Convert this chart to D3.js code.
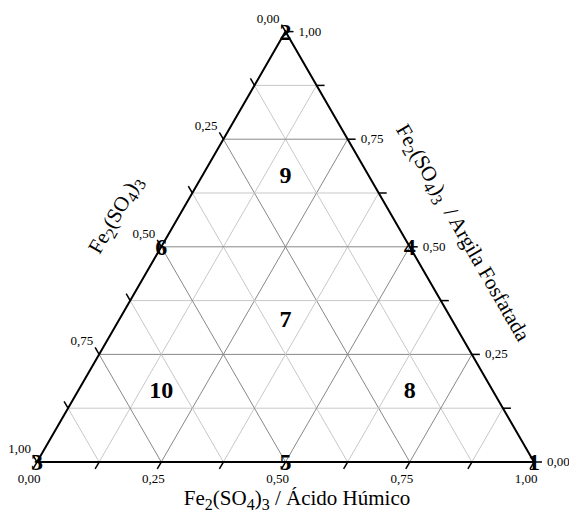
<!DOCTYPE html>
<html>
<head>
<meta charset="utf-8">
<script src="https://cdn.jsdelivr.net/npm/d3@7"></script>
<style>
  html, body { margin: 0; padding: 0; background: #fff; }
  svg { display: block; }
  text { font-family: "Liberation Serif", "Times New Roman", serif; fill: #000; }
</style>
</head>
<body>
<svg id="chart" width="569" height="519"></svg>
<script>
// Mixture points: weight of the bottom-right, top and bottom-left components
const pointLabels = ["1", "2", "3", "4", "5", "6", "7", "8", "9", "10"];
const wRight  = [1, 0, 0, 0.5, 0.5, 0,   0.3333, 0.6667, 0.1667, 0.1667];
const wTop    = [0, 1, 0, 0.5, 0,   0.5, 0.3333, 0.1667, 0.6667, 0.1667];
const wLeft   = [0, 0, 1, 0,   0.5, 0.5, 0.3333, 0.1667, 0.1667, 0.6667];

// Axis ticks
const majorTicks = [0, 0.25, 0.5, 0.75, 1];
const minorTicks = [0.125, 0.375, 0.625, 0.875];
const gridSteps  = [0.125, 0.25, 0.375, 0.5, 0.625, 0.75, 0.875];

// Axis titles: [text, isSubscript]
const bottomTitle = [["Fe", 0], ["2", 1], ["(SO", 0], ["4", 1], [")", 0], ["3", 1], [" / Ácido Húmico", 0]];
const leftTitle   = [["Fe", 0], ["2", 1], ["(SO", 0], ["4", 1], [")", 0], ["3", 1]];
const rightTitle  = [["Fe", 0], ["2", 1], ["(SO", 0], ["4", 1], [")", 0], ["3", 1], ["\u00a0 / Argila Fosfatada", 0]];

const svg = d3.select("#chart");

// Triangle frame: bottom edge spans x, height fraction spans y
const x = d3.scaleLinear().domain([0, 1]).range([37, 534]);
const y = d3.scaleLinear().domain([0, 1]).range([462, 31.6]);

// ternary weights (right, top) -> screen
const pos = (r, t) => [x(r + t / 2), y(t)];

const fmt = d3.formatLocale({decimal: ",", thousands: ".", grouping: [3], currency: ["", ""]}).format(".2f");

// Grid
const grid = svg.append("g").attr("fill", "none").attr("stroke-width", 1);
gridSteps.forEach((f, i) => {
  const col = (i % 2 === 1) ? "#888888" : "#c8c8c8";
  const segs = [
    [pos(0, f), pos(1 - f, f)],           // constant top weight
    [pos(f, 0), pos(f, 1 - f)],           // constant right weight
    [pos(1 - f, 0), pos(0, 1 - f)]        // constant left weight
  ];
  segs.forEach(s => {
    grid.append("line")
      .attr("x1", s[0][0]).attr("y1", s[0][1])
      .attr("x2", s[1][0]).attr("y2", s[1][1])
      .attr("stroke", col);
  });
});

// Frame
const A = pos(0, 0), B = pos(1, 0), C = pos(0, 1);
svg.append("path")
  .attr("d", d3.line()([A, B, C, A]) + "Z")
  .attr("fill", "none").attr("stroke", "#000").attr("stroke-width", 2)
  .attr("stroke-linejoin", "miter");

const tickLen = 8;
const allTicks = majorTicks.concat(minorTicks);
const ticks = svg.append("g").attr("stroke", "#000").attr("stroke-width", 1.5);
const labels = svg.append("g").attr("font-size", 13);

// Bottom axis: ticks run down-left, parallel to the left edge
const bdx = -0.5, bdy = 0.866;
allTicks.forEach(v => {
  const p = pos(v, 0);
  ticks.append("line").attr("x1", p[0]).attr("y1", p[1])
    .attr("x2", p[0] + bdx * tickLen).attr("y2", p[1] + bdy * tickLen);
});
majorTicks.forEach(v => {
  const p = pos(v, 0);
  labels.append("text").attr("x", p[0] - 8).attr("y", p[1] + 21)
    .attr("text-anchor", "middle").text(fmt(v));
});

// Left axis: 0 at top, 1 at bottom-left; ticks run up-left
const ldx = -0.5, ldy = -0.866;
allTicks.forEach(v => {
  const p = pos(0, 1 - v);
  ticks.append("line").attr("x1", p[0]).attr("y1", p[1])
    .attr("x2", p[0] + ldx * tickLen).attr("y2", p[1] + ldy * tickLen);
});
majorTicks.forEach(v => {
  const p = pos(0, 1 - v);
  labels.append("text").attr("x", p[0] - 6).attr("y", p[1] - 9)
    .attr("text-anchor", "end").text(fmt(v));
});

// Right axis: 0 at bottom-right, 1 at top; ticks run right
allTicks.forEach(v => {
  const p = pos(1 - v, v);
  ticks.append("line").attr("x1", p[0]).attr("y1", p[1])
    .attr("x2", p[0] + tickLen).attr("y2", p[1]);
});
majorTicks.forEach(v => {
  const p = pos(1 - v, v);
  labels.append("text").attr("x", p[0] + 13).attr("y", p[1] + 4)
    .attr("text-anchor", "start").text(fmt(v));
});

// Axis titles with subscripts
function title(parts, tx, ty, rot) {
  const t = svg.append("text")
    .attr("font-size", 21)
    .attr("text-anchor", "middle")
    .attr("transform", `translate(${tx},${ty}) rotate(${rot})`);
  let prevSub = false;
  parts.forEach(([s, sub]) => {
    const span = t.append("tspan").text(s);
    if (sub) span.attr("font-size", 16);
    const dy = sub && !prevSub ? 5 : (!sub && prevSub ? -5 : 0);
    if (dy) span.attr("dy", dy);
    prevSub = !!sub;
  });
}
title(bottomTitle, 297, 505, 0);
title(leftTitle, 121, 218, -60);
title(rightTitle, 457, 236, 60);

// Point labels
svg.append("g")
  .attr("font-size", 24).attr("font-weight", "bold")
  .selectAll("text").data(pointLabels).join("text")
  .attr("x", (d, i) => pos(wRight[i], wTop[i])[0])
  .attr("y", (d, i) => pos(wRight[i], wTop[i])[1] + 8)
  .attr("text-anchor", "middle")
  .text(d => d);
</script>
</body>
</html>
